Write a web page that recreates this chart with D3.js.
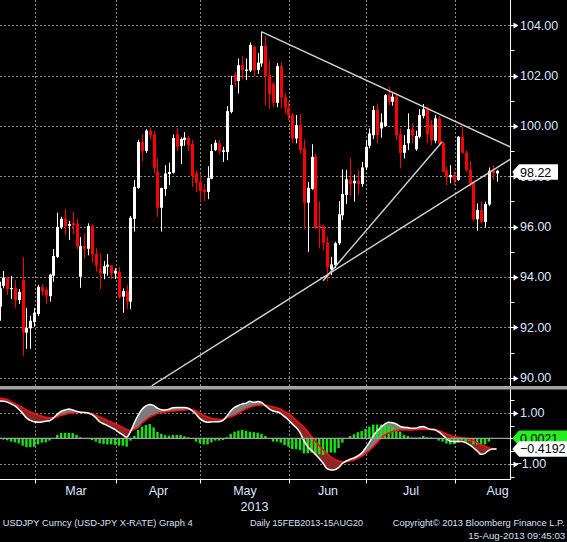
<!DOCTYPE html>
<html>
<head>
<meta charset="utf-8">
<script src="https://cdn.jsdelivr.net/npm/d3@7"></script>
<style>
  html, body { margin: 0; padding: 0; background: #000; }
  svg { display: block; }
</style>
</head>
<body>
<svg id="chart" width="567" height="542"></svg>
<script>
// ---------------- DATA ----------------
// USDJPY daily candles, trading days 15 Feb 2013 .. 15 Aug 2013
const open = [92.82,93.65,93.97,93.52,93.57,93.08,93.88,91.79,91.96,92.21,
92.53,93.60,93.48,93.24,94.05,94.80,95.97,96.30,96.03,96.14,
96.11,94.01,95.23,95.12,96.02,94.91,94.31,94.13,94.41,94.46,
94.14,94.20,93.22,93.44,93.02,96.31,97.54,99.36,99.01,99.79,
99.67,98.18,96.75,97.49,98.09,98.14,99.67,99.20,99.44,99.53,
99.28,98.11,97.77,97.46,97.38,97.90,99.04,99.31,98.97,98.96,
100.56,102.02,101.78,102.41,102.19,102.20,103.14,102.22,102.48,103.17,
102.02,101.66,100.92,102.37,101.14,100.73,100.43,99.50,100.03,99.11,
96.95,97.50,98.77,96.05,96.02,95.37,94.30,94.47,95.34,96.45,
97.26,97.85,97.72,97.82,97.69,98.35,99.21,99.63,100.63,99.90,
99.99,101.22,100.96,101.16,99.67,98.93,99.31,99.87,99.07,99.57,
100.40,100.66,100.03,99.41,100.30,99.31,98.22,97.96,98.05,97.85,
99.57,98.93,98.27,97.72,96.29,96.66,96.19,96.88,98.22,98.11];
const high = [93.81,94.24,94.00,94.04,93.88,93.52,94.79,92.77,92.46,92.77,
93.69,93.72,93.60,94.13,95.11,96.55,96.39,96.70,96.23,96.58,
96.30,95.59,95.73,96.13,96.09,95.15,94.94,94.63,94.91,94.47,
94.35,94.39,93.55,93.68,96.42,97.85,99.45,99.67,99.87,99.94,
99.79,98.72,97.55,98.44,98.54,99.66,99.91,99.54,99.75,99.60,
99.44,98.22,98.11,97.69,98.40,99.28,99.44,99.44,99.17,100.79,
101.99,102.14,102.68,102.77,102.68,103.31,103.20,102.90,103.74,103.57,
102.61,101.75,102.49,102.54,101.31,100.96,100.50,100.43,100.47,99.46,
97.78,99.27,98.90,97.01,96.06,95.60,94.80,95.40,97.01,98.27,
98.25,98.73,98.07,98.25,98.57,99.44,99.90,100.79,100.89,100.50,
101.26,101.55,101.29,101.29,99.90,99.63,100.50,100.10,99.81,100.66,
100.87,100.76,100.23,100.43,100.39,99.37,98.38,98.44,98.18,99.60,
99.96,99.04,98.61,97.81,96.92,96.99,96.99,98.35,98.44,98.24];
const low = [92.26,93.55,93.28,93.12,92.78,92.93,90.87,91.15,91.15,92.02,
92.45,93.26,92.93,93.02,93.81,94.75,95.90,95.66,95.47,95.70,
95.10,93.57,94.72,94.86,94.57,94.21,93.52,93.91,94.05,93.92,
93.92,93.14,92.58,92.73,92.73,95.80,97.50,98.60,98.93,99.46,
98.11,96.39,95.80,97.22,97.65,98.10,99.01,98.48,99.21,99.01,
97.58,97.38,96.99,97.01,97.09,97.88,99.00,98.87,98.57,98.64,
100.50,101.55,101.29,101.86,101.82,102.14,101.98,102.06,102.35,100.83,
100.69,100.76,100.74,100.71,100.50,100.23,99.31,99.31,98.88,95.89,
95.00,97.45,95.90,95.14,95.07,93.81,94.08,94.35,95.27,96.26,
96.90,97.22,96.99,97.25,97.58,98.25,99.11,99.48,99.31,99.53,
99.96,100.83,100.80,99.44,98.31,98.71,99.04,99.31,99.01,99.50,
100.30,99.31,99.24,99.31,99.24,98.14,97.65,97.72,97.65,97.82,
98.91,98.18,97.58,96.22,95.84,96.13,95.97,96.82,97.85,97.78];
const close = [93.55,93.97,93.52,93.56,93.08,93.41,91.79,91.97,92.26,92.58,
93.61,93.44,93.26,94.09,94.83,95.99,96.31,96.03,96.10,96.06,
95.23,95.23,95.12,96.02,94.90,94.45,94.14,94.43,94.49,94.14,
94.25,93.20,93.44,93.02,96.35,97.58,99.36,99.01,99.81,99.63,
98.34,96.75,97.53,98.11,98.17,99.52,99.17,99.48,99.53,99.24,
98.02,97.74,97.42,97.38,97.93,99.00,99.33,98.99,99.03,100.59,
101.62,101.78,102.41,102.22,102.24,103.21,102.22,102.51,103.17,101.99,
101.26,100.92,102.37,101.12,100.73,100.43,99.50,100.03,99.04,96.95,
97.54,98.77,95.99,95.98,95.36,94.38,94.50,95.34,96.49,97.29,
97.88,97.69,97.82,97.69,98.35,99.17,99.70,100.63,99.63,100.14,
101.22,100.96,101.16,99.63,98.93,99.24,99.87,99.63,99.60,100.43,
100.66,99.66,99.44,100.30,99.28,98.18,97.96,98.05,97.85,99.57,
98.93,98.25,97.72,96.29,96.66,96.19,96.90,98.22,98.11,98.22];

// MACD panel (white = MACD, red = signal, green = histogram)
const macd = [1.46,1.45,1.42,1.35,1.27,1.14,0.98,0.80,0.70,0.65,
0.63,0.64,0.67,0.69,0.80,0.94,1.06,1.11,1.15,1.11,
1.06,1.02,1.01,0.99,0.93,0.81,0.65,0.57,0.50,0.42,
0.34,0.23,0.13,0.04,0.26,0.61,0.91,1.14,1.27,1.33,
1.29,1.18,1.12,1.11,1.14,1.20,1.21,1.21,1.21,1.18,
1.08,0.95,0.77,0.67,0.63,0.64,0.65,0.65,0.70,0.87,
1.07,1.21,1.29,1.35,1.38,1.45,1.41,1.44,1.41,1.28,
1.15,1.07,1.04,0.97,0.85,0.72,0.56,0.42,0.22,-0.09,
-0.33,-0.48,-0.63,-0.79,-0.98,-1.19,-1.24,-1.23,-1.15,-0.99,
-0.89,-0.82,-0.77,-0.69,-0.58,-0.38,-0.16,0.09,0.29,0.43,
0.56,0.63,0.61,0.56,0.47,0.43,0.42,0.39,0.39,0.44,
0.46,0.40,0.35,0.33,0.25,0.13,-0.01,-0.12,-0.13,-0.13,
-0.13,-0.17,-0.26,-0.37,-0.50,-0.63,-0.59,-0.47,-0.42,-0.417];
const signal = [1.57,1.55,1.52,1.44,1.36,1.28,1.20,1.11,1.03,0.97,
0.91,0.87,0.82,0.80,0.80,0.85,0.90,0.94,0.98,1.00,
1.02,1.02,1.02,0.99,0.97,0.90,0.84,0.77,0.69,0.64,
0.57,0.50,0.42,0.34,0.30,0.35,0.43,0.60,0.72,0.84,
0.90,0.97,1.01,1.03,1.06,1.07,1.08,1.10,1.11,1.14,
1.12,1.08,0.98,0.89,0.84,0.78,0.76,0.74,0.74,0.80,
0.85,0.90,0.98,1.08,1.16,1.22,1.27,1.29,1.31,1.29,
1.27,1.23,1.19,1.14,1.04,0.97,0.85,0.70,0.57,0.44,
0.26,0.06,-0.12,-0.29,-0.45,-0.59,-0.73,-0.84,-0.89,-0.92,
-0.92,-0.88,-0.85,-0.77,-0.71,-0.59,-0.47,-0.33,-0.17,0.00,
0.13,0.21,0.27,0.31,0.33,0.33,0.33,0.33,0.34,0.35,
0.35,0.35,0.35,0.35,0.30,0.25,0.17,0.12,0.06,0.04,
0.01,0.00,-0.05,-0.09,-0.17,-0.25,-0.31,-0.37,-0.42,-0.4192];
const hist = [-0.04,-0.05,-0.08,-0.13,-0.16,-0.20,-0.29,-0.35,-0.35,-0.33,
-0.24,-0.17,-0.16,-0.09,-0.01,0.13,0.21,0.21,0.21,0.21,
0.13,0.04,-0.01,-0.03,-0.07,-0.13,-0.20,-0.22,-0.24,-0.24,
-0.26,-0.29,-0.29,-0.33,-0.09,0.10,0.33,0.46,0.52,0.56,
0.43,0.25,0.17,0.12,0.10,0.13,0.13,0.13,0.08,0.04,
-0.01,-0.13,-0.20,-0.24,-0.24,-0.16,-0.09,-0.09,-0.07,0.04,
0.17,0.26,0.30,0.33,0.30,0.26,0.24,0.22,0.17,0.09,
-0.02,-0.13,-0.13,-0.17,-0.26,-0.33,-0.42,-0.43,-0.46,-0.59,
-0.59,-0.56,-0.65,-0.63,-0.65,-0.61,-0.56,-0.56,-0.39,-0.17,
0.01,0.09,0.16,0.24,0.29,0.37,0.46,0.54,0.54,0.54,
0.50,0.50,0.46,0.37,0.26,0.13,0.09,0.03,0.03,0.04,
0.09,0.04,0.03,0.01,-0.09,-0.13,-0.20,-0.24,-0.22,-0.16,
-0.07,-0.13,-0.10,-0.24,-0.24,-0.24,-0.24,-0.13,-0.03,0.0021];

// Trend lines drawn on the price panel: [dayIndex, price] endpoints
const trendLines = [
  [[67.95, 103.74], [132.5, 99.17]],
  [[39.5, 89.68], [132.5, 98.67]],
  [[84.0, 93.85], [114.9, 99.37]]
];

const priceTicks = [104, 102, 100, 98, 96, 94, 92, 90];
const priceMinor = [103, 101, 99, 97, 95, 93, 91];
const macdTicks = [1, -1];
const macdMinor = [1.5, 0.5, 0, -0.5, -1.5];
const monthNames = ["Mar", "Apr", "May", "Jun", "Jul", "Aug"];
const yearLabel = "2013";
const lastPrice = 98.22;
const lastHist = 0.0021;
const lastSignal = -0.4192;
const footerLeft = "USDJPY Curncy (USD-JPY X-RATE) Graph 4";
const footerMid = "Daily 15FEB2013-15AUG20";
const footerRight = "Copyright\u00A9 2013 Bloomberg Finance L.P.";
const footerTime = "15-Aug-2013 09:45:03";

// ---------------- LAYOUT ----------------
const svg = d3.select("#chart");
const FONT = "'Liberation Sans', Arial, sans-serif";
const LABEL = "#dbe6ff";
const GRID = "#8a8a8a";
const AXX = 510.5;

// trading days (weekdays) used as the category axis
const allDays = d3.timeDays(new Date(2013, 1, 15), new Date(2013, 8, 3))
  .filter(d => d.getDay() !== 0 && d.getDay() !== 6);
const nDays = close.length;
const idx = d3.range(nDays);

const x = d3.scaleLinear().domain([0, nDays - 1]).range([-0.5, 496.5]);
const yP = d3.scaleLinear().domain([89.67, 105]).range([386, 0]);
const yM = d3.scaleLinear().domain([-1.635, 1.894]).range([480, 390]);

svg.append("rect").attr("width", 567).attr("height", 542).attr("fill", "#000");

const defs = svg.append("defs");
defs.append("clipPath").attr("id", "clipMain")
  .append("rect").attr("x", 0).attr("y", 0).attr("width", AXX).attr("height", 386);
defs.append("clipPath").attr("id", "clipLow")
  .append("rect").attr("x", 0).attr("y", 390).attr("width", AXX).attr("height", 90);

// month starts (first trading day of each month)
const monthStarts = [];
allDays.forEach((d, i) => { if (i > 0 && d.getMonth() !== allDays[i - 1].getMonth()) monthStarts.push(i); });
const gridX = i => Math.round(x(i - 0.86)) + 0.5;

// ---------------- GRID ----------------
const grid = svg.append("g").attr("stroke", GRID).attr("stroke-width", 1).attr("stroke-dasharray", "2,2");
monthStarts.slice(0, monthNames.length).forEach(i => {
  const gx = gridX(i);
  grid.append("line").attr("x1", gx).attr("x2", gx).attr("y1", 0).attr("y2", 386);
  grid.append("line").attr("x1", gx).attr("x2", gx).attr("y1", 390).attr("y2", 480);
});
priceTicks.forEach(v => {
  const gy = Math.round(yP(v)) + 0.5;
  grid.append("line").attr("x1", 0).attr("x2", AXX).attr("y1", gy).attr("y2", gy);
});
macdTicks.forEach(v => {
  const gy = Math.round(yM(v)) + 0.5;
  grid.append("line").attr("x1", 0).attr("x2", AXX).attr("y1", gy).attr("y2", gy);
});

// ---------------- CANDLES ----------------
const gc = svg.append("g").attr("clip-path", "url(#clipMain)");
idx.forEach(i => {
  const up = close[i] >= open[i];
  const col = up ? "#ffffff" : "#ff0000";
  const cx = Math.round(x(i));
  gc.append("line")
    .attr("x1", cx + 0.5).attr("x2", cx + 0.5)
    .attr("y1", yP(high[i])).attr("y2", yP(low[i]))
    .attr("stroke", col).attr("stroke-width", 1);
  const yt = yP(Math.max(open[i], close[i]));
  const yb = yP(Math.min(open[i], close[i]));
  gc.append("rect")
    .attr("x", cx - 1).attr("width", 3)
    .attr("y", yt).attr("height", Math.max(1.2, yb - yt))
    .attr("fill", col);
});

// ---------------- TREND LINES ----------------
const tl = svg.append("g").attr("clip-path", "url(#clipMain)");
trendLines.forEach(seg => {
  tl.append("line")
    .attr("x1", x(seg[0][0])).attr("y1", yP(seg[0][1]))
    .attr("x2", x(seg[1][0])).attr("y2", yP(seg[1][1]))
    .attr("stroke", "#d2d2d2").attr("stroke-width", 1.4);
});

// ---------------- MACD PANEL ----------------
const lowPanel = svg.append("g").attr("clip-path", "url(#clipLow)");
const curve = d3.curveMonotoneX;
const bandArea = d3.area().curve(curve).x(i => x(i)).y0(i => yM(signal[i])).y1(i => yM(macd[i]));
const aboveSig = d3.area().curve(curve).x(i => x(i)).y0(() => 380).y1(i => yM(signal[i]));
const belowSig = d3.area().curve(curve).x(i => x(i)).y0(i => yM(signal[i])).y1(() => 490);
defs.append("clipPath").attr("id", "clipAbove").append("path").attr("d", aboveSig(idx));
defs.append("clipPath").attr("id", "clipBelow").append("path").attr("d", belowSig(idx));

lowPanel.append("g").attr("clip-path", "url(#clipAbove)")
  .append("path").attr("d", bandArea(idx)).attr("fill", "#7c7c7c");
lowPanel.append("g").attr("clip-path", "url(#clipBelow)")
  .append("path").attr("d", bandArea(idx)).attr("fill", "#8a2626");

// zero line
svg.append("line").attr("x1", 0).attr("x2", 567)
  .attr("y1", yM(0)).attr("y2", yM(0))
  .attr("stroke", "#a0a0a0").attr("stroke-width", 1.2);

// histogram
lowPanel.append("g").selectAll("rect").data(idx).join("rect")
  .attr("x", i => x(i) - 1.2).attr("width", 2.4)
  .attr("y", i => Math.min(yM(hist[i]), yM(0)))
  .attr("height", i => Math.abs(yM(hist[i]) - yM(0)))
  .attr("fill", "#16e616");

// lines
lowPanel.append("path").attr("d", d3.line().curve(curve).x(i => x(i)).y(i => yM(signal[i]))(idx))
  .attr("fill", "none").attr("stroke", "#ff1010").attr("stroke-width", 1.6);
lowPanel.append("path").attr("d", d3.line().curve(curve).x(i => x(i)).y(i => yM(macd[i]))(idx))
  .attr("fill", "none").attr("stroke", "#ffffff").attr("stroke-width", 1.5);

// ---------------- SEPARATOR & AXES ----------------
svg.append("rect").attr("x", 0).attr("y", 386).attr("width", 567).attr("height", 3.5).attr("fill", "#a3a3a3");

const ax = svg.append("g").attr("stroke", "#ffffff").attr("stroke-width", 1);
ax.append("line").attr("x1", AXX).attr("x2", AXX).attr("y1", 0).attr("y2", 386);
ax.append("line").attr("x1", AXX).attr("x2", AXX).attr("y1", 389.5).attr("y2", 480);
ax.append("line").attr("x1", 0).attr("x2", AXX + 0.5).attr("y1", 479.5).attr("y2", 479.5);
monthStarts.slice(0, monthNames.length).forEach(i => {
  const gx = gridX(i);
  ax.append("line").attr("x1", gx).attr("x2", gx).attr("y1", 480).attr("y2", 483.5);
});

function majorTick(y) {
  const yy = Math.round(y) + 0.5;
  svg.append("line").attr("x1", AXX).attr("x2", 515).attr("y1", yy).attr("y2", yy)
    .attr("stroke", "#fff").attr("stroke-width", 1);
  svg.append("path").attr("d", `M513.5,${yy - 3}L518.5,${yy}L513.5,${yy + 3}Z`).attr("fill", "#fff");
}
function minorTick(y) {
  const yy = Math.round(y) + 0.5;
  svg.append("line").attr("x1", AXX).attr("x2", 514.5).attr("y1", yy).attr("y2", yy)
    .attr("stroke", "#fff").attr("stroke-width", 1);
}
priceMinor.forEach(v => minorTick(yP(v)));
priceTicks.forEach(v => {
  majorTick(yP(v));
  svg.append("text").attr("x", 520).attr("y", yP(v)).attr("dy", "0.36em")
    .attr("font-family", FONT).attr("font-size", 12.5).attr("fill", LABEL)
    .text(d3.format(".2f")(v));
});
macdMinor.forEach(v => minorTick(yM(v)));
macdTicks.forEach(v => {
  majorTick(yM(v));
  svg.append("text").attr("x", v < 0 ? 514.5 : 520).attr("y", yM(v)).attr("dy", "0.36em")
    .attr("font-family", FONT).attr("font-size", 12.5).attr("fill", LABEL)
    .text(d3.format(".2f")(v));
});

// ---------------- VALUE TAGS ----------------
function tag(yc, right, fill, txt) {
  const t = yc - 7.8, b = yc + 7.8;
  svg.append("path").attr("d", `M512.3,${yc}L519,${t}L${right},${t}L${right},${b}L519,${b}Z`).attr("fill", fill);
  svg.append("text").attr("x", 520).attr("y", yc).attr("dy", "0.36em")
    .attr("font-family", FONT).attr("font-size", 12.5).attr("fill", "#000").text(txt);
}
tag(yP(lastPrice) + 1.3, 558, "#ffffff", d3.format(".2f")(lastPrice));
tag(yM(lastHist), 567, "#22ee22", d3.format(".4f")(lastHist));
tag(yM(lastSignal), 567, "#ffffff", d3.format(".4f")(lastSignal));

// ---------------- MONTH LABELS ----------------
monthNames.forEach((m, k) => {
  const a = gridX(monthStarts[k]), b = gridX(monthStarts[k + 1]);
  svg.append("text").attr("x", (a + b) / 2).attr("y", 495).attr("text-anchor", "middle")
    .attr("font-family", FONT).attr("font-size", 12.5).attr("fill", LABEL).text(m);
});
svg.append("text").attr("x", 254.5).attr("y", 510.5).attr("text-anchor", "middle")
  .attr("font-family", FONT).attr("font-size", 12.5).attr("fill", LABEL).text(yearLabel);

// ---------------- FOOTER ----------------
function foot(txt, x0, y0, len) {
  svg.append("text").attr("x", x0).attr("y", y0)
    .attr("font-family", FONT).attr("font-size", 9.5).attr("fill", "#d4e0f8")
    .attr("textLength", len).attr("lengthAdjust", "spacingAndGlyphs").text(txt);
}
foot(footerLeft, 2.7, 526, 190);
foot(footerMid, 250, 526, 113);
foot(footerRight, 392.7, 526, 172);
foot(footerTime, 468.3, 539, 97);
</script>
</body>
</html>
